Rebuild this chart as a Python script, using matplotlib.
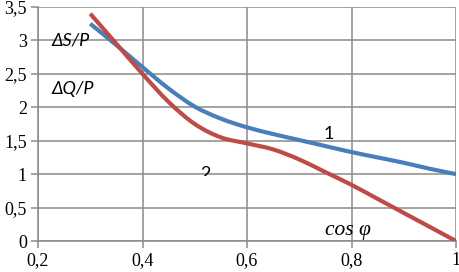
import matplotlib
matplotlib.use("Agg")
import matplotlib.pyplot as plt
from matplotlib.ticker import FuncFormatter
from matplotlib.path import Path
from matplotlib.patches import PathPatch
from matplotlib.transforms import Bbox, TransformedBbox

plt.rcParams["font.family"] = ["Liberation Serif", "DejaVu Serif"]

cos_phi = [0.30, 0.35, 0.40, 0.45, 0.50, 0.55, 0.60, 0.65, 0.70, 0.75, 0.80, 0.85, 0.90, 0.95, 1.00]
dS_P = [3.25, 2.93, 2.60, 2.28, 2.01, 1.83, 1.70, 1.60, 1.51, 1.42, 1.33, 1.25, 1.17, 1.08, 1.00]
dQ_P = [3.40, 2.95, 2.50, 2.08, 1.75, 1.55, 1.46, 1.37, 1.22, 1.03, 0.84, 0.63, 0.42, 0.21, 0.00]
x_ticks = [0.2, 0.4, 0.6, 0.8, 1.0]
y_ticks = [0, 0.5, 1, 1.5, 2, 2.5, 3, 3.5]


def smooth_path(xs, ys):
    """Cubic Bezier through the data points (spreadsheet-style smoothed line)."""
    pts = list(zip(xs, ys))
    n = len(pts)
    verts = [pts[0]]
    codes = [Path.MOVETO]
    for i in range(n - 1):
        p0 = pts[i - 1] if i > 0 else pts[i]
        p1 = pts[i]
        p2 = pts[i + 1]
        p3 = pts[i + 2] if i + 2 < n else pts[i + 1]
        c1 = (p1[0] + (p2[0] - p0[0]) / 6, p1[1] + (p2[1] - p0[1]) / 6)
        c2 = (p2[0] - (p3[0] - p1[0]) / 6, p2[1] - (p3[1] - p1[1]) / 6)
        verts += [c1, c2, p2]
        codes += [Path.CURVE4] * 3
    return Path(verts, codes)


fig = plt.figure(figsize=(4.59, 2.72), dpi=100)
ax = fig.add_axes([38/459, 1-241/272, (456-38)/459, (241-7)/272])

grid_c = "#8a8a8a"
for ys, col, z in [(dS_P, "#4a7ebb", 3), (dQ_P, "#be4b48", 4)]:
    ax.add_patch(PathPatch(smooth_path(cos_phi, ys), facecolor="none", edgecolor=col,
                           lw=3.0, capstyle="butt", zorder=z))

ax.set_xlim(0.2, 1.0)
ax.set_ylim(0, 3.5)
ax.set_xticks(x_ticks)
ax.set_yticks(y_ticks)
fmt = FuncFormatter(lambda v, p: ("%g" % v).replace(".", ","))
ax.xaxis.set_major_formatter(fmt)
ax.yaxis.set_major_formatter(fmt)
ax.grid(True, color=grid_c, lw=1.1)
ax.set_axisbelow(True)
for s in ["top", "right"]:
    ax.spines[s].set_visible(False)
for s in ["left", "bottom"]:
    ax.spines[s].set_color(grid_c)
    ax.spines[s].set_linewidth(1.1)
ax.tick_params(axis="both", direction="out", length=5, width=1.1, color=grid_c,
               labelsize=13, pad=3)

ax.text(0.227, 3.0, "ΔS/P", fontsize=13, style="italic", family="Lato", va="center", ha="left")
ax.text(0.227, 2.28, "ΔQ/P", fontsize=13, style="italic", family="Lato", va="center", ha="left")
ax.text(0.757, 1.6, "1", fontsize=13, family="Lato", va="center", ha="center")
t2 = ax.text(0.52, 1.12, "2", fontsize=13, family="Lato", va="top", ha="center")
t2.set_clip_on(True)
t2.set_clip_box(TransformedBbox(Bbox([[0.2, 0.97], [1.0, 3.5]]), ax.transData))
ax.text(0.793, 0.02, "cos φ", fontsize=15.5, style="italic", family="Liberation Serif",
        va="bottom", ha="center")

fig.savefig("out.png", dpi=100)
